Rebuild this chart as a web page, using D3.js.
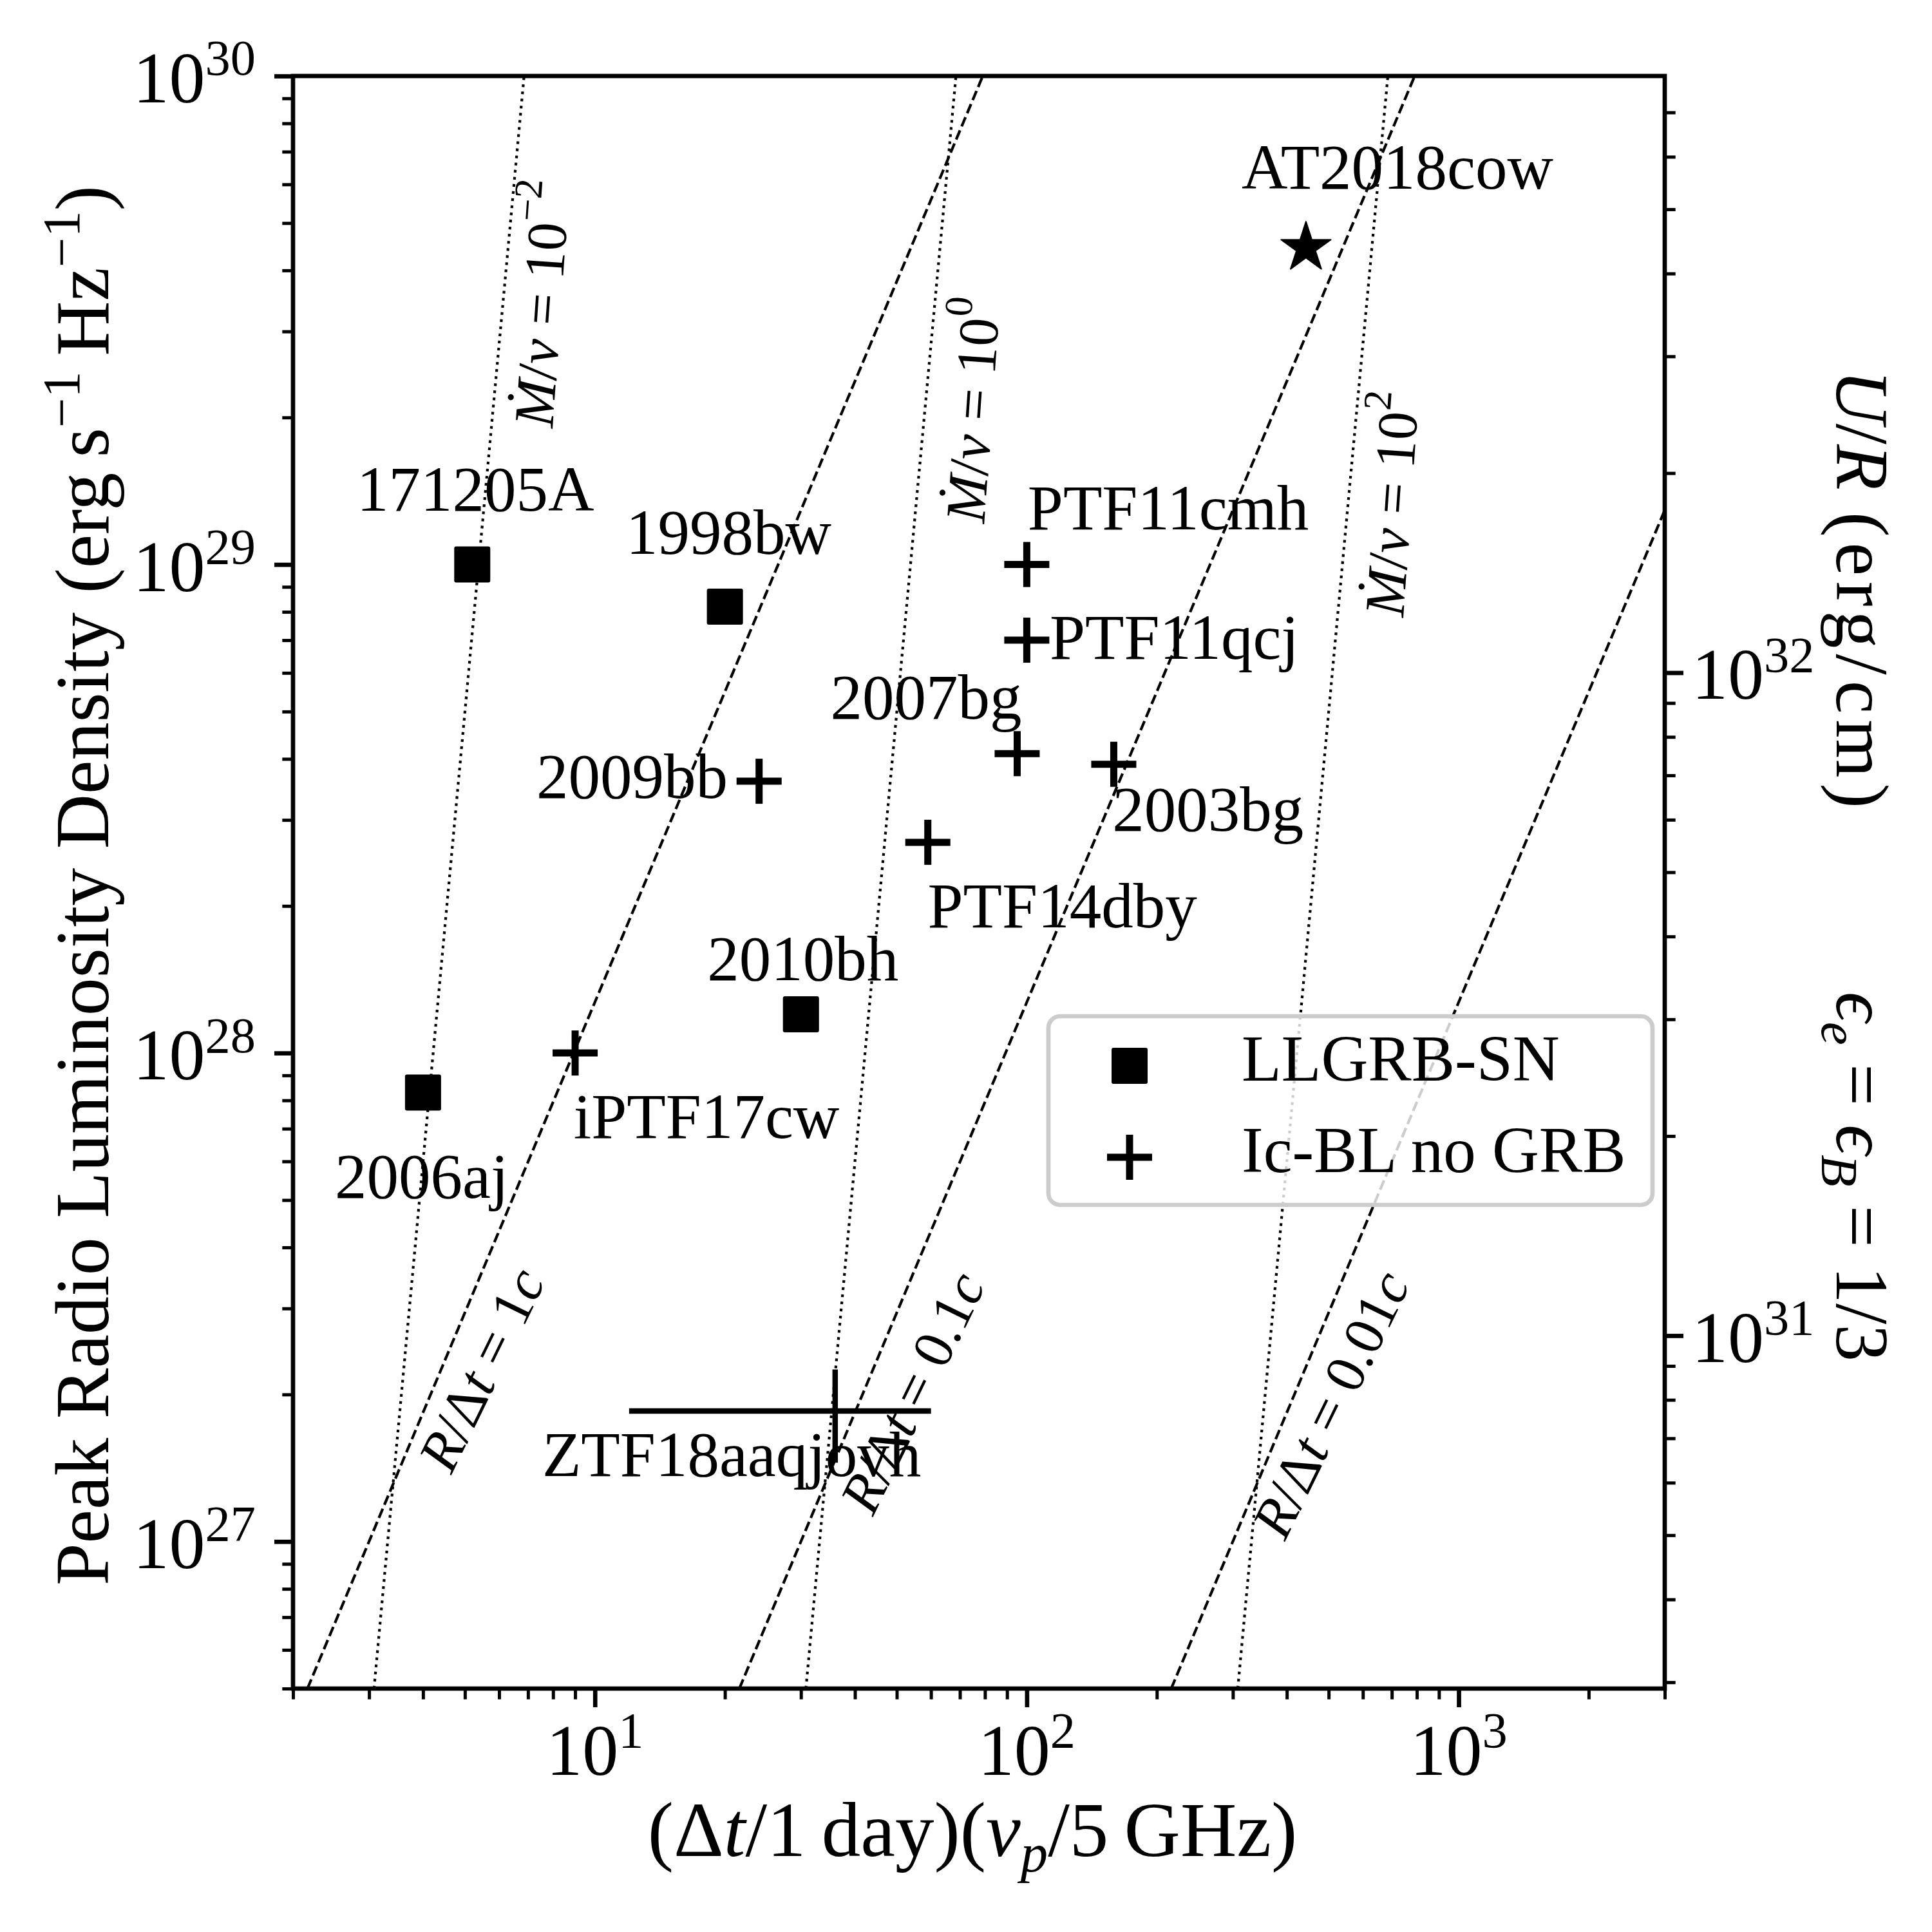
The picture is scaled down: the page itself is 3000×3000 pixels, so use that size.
<!DOCTYPE html>
<html>
<head>
<meta charset="utf-8">
<script src="https://cdn.jsdelivr.net/npm/d3@7"></script>
<style>
	body { margin: 0; background: #fff; }
	text { font-family: "Liberation Serif", "DejaVu Serif", serif; fill: #000; }
</style>
</head>
<body>
<div id="chartDiv"></div>
<script>
; (function () {

	var width = 3000;
	var height = 3000;
	var margin = { top: 118, right: 415, bottom: 378, left: 455 };

	// LLGRB-SN (squares)
	var llgrbNames = ["171205A", "1998bw", "2010bh", "2006aj"];
	var llgrbX = [5.2, 20, 30, 4.0];
	var llgrbL = [1.0e29, 8.2e28, 1.2e28, 8.3e27];
	var llgrbLabelX = [2.81, 11.8, 18.2, 2.50];
	var llgrbLabelL = [1.29e29, 1.05e29, 1.41e28, 5.06e27];

	// Ic-BL without GRB (plus)
	var icblNames = ["PTF11cmh", "PTF11qcj", "2007bg", "2003bg", "2009bb", "PTF14dby", "iPTF17cw"];
	var icblX = [100, 100, 95, 159, 24, 59, 9];
	var icblL = [1.0e29, 7.0e28, 4.1e28, 3.9e28, 3.6e28, 2.7e28, 1.0e28];
	var icblLabelX = [100.5, 113, 35.1, 157.8, 7.32, 58.97, 8.93];
	var icblLabelL = [1.18e29, 6.42e28, 4.83e28, 2.85e28, 3.33e28, 1.81e28, 6.71e27];

	// AT2018cow (star)
	var cowNames = ["AT2018cow"];
	var cowX = [443];
	var cowL = [4.45e29];
	var cowLabelX = [314.5];
	var cowLabelL = [5.87e29];

	// ZTF18aaqjovh (error bars)
	var ztfNames = ["ZTF18aaqjovh"];
	var ztfX = [36];
	var ztfXErr = [24];
	var ztfL = [1.85e27];
	var ztfLErr = [0.4e27];
	var ztfLabelX = [7.55];
	var ztfLabelL = [1.36e27];

	// constant R/dt lines (dashed): x where each meets L = 5e26
	var rdtText = ["1", "0.1", "0.01"];
	var rdtX0 = [2.16, 21.6, 216];
	var rdtSlope = 19 / 9;
	var rdtLabelX = [5.46, 54.3, 505];
	var rdtLabelL = [2.25e27, 2.02e27, 1.91e27];

	// constant Mdot/v lines (dotted)
	var mdotExp = ["\u22122", "0", "2"];
	var mdotX0 = [3.08, 30.8, 308];
	var mdotSlope = 9.5;
	var mdotLabelX = [7.54, 75, 700];
	var mdotLabelL = [3.42e29, 2.07e29, 1.33e29];

	var lineL0 = 5e26;

	var xDomain = [2, 3000];
	var yDomain = [5e26, 1e30];
	var rightDomain = [Math.pow(10, 30.4676), Math.pow(10, 32.900)];

	var xMajor = [10, 100, 1000];
	var xMajorExp = ["1", "2", "3"];
	var yMajor = [1e27, 1e28, 1e29, 1e30];
	var yMajorExp = ["27", "28", "29", "30"];
	var rMajor = [1e31, 1e32];
	var rMajorExp = ["31", "32"];

	var chartWidth = width - margin.left - margin.right;
	var chartHeight = height - margin.top - margin.bottom;

	var svg = d3.select("#chartDiv").append("svg")
		.attr("width", width)
		.attr("height", height);

	svg.append("rect").attr("width", width).attr("height", height).attr("fill", "#fff");

	var plot = svg.append("g")
		.attr("transform", "translate(" + margin.left + "," + margin.top + ")");

	var x = d3.scaleLog().domain(xDomain).range([0, chartWidth]);
	var y = d3.scaleLog().domain(yDomain).range([chartHeight, 0]);
	var yR = d3.scaleLog().domain(rightDomain).range([chartHeight, 0]);

	plot.append("clipPath").attr("id", "clip")
		.append("rect").attr("width", chartWidth).attr("height", chartHeight);

	// text with italic / super / subscript pieces
	function rich(sel, parts, fs) {
		var shift = 0;
		parts.forEach(function (p) {
			var target = p.sup ? -fs * 0.38 : (p.sub ? fs * 0.2 : 0);
			var ts = sel.append("tspan").text(p.t);
			if (p.x !== undefined) ts.attr("x", p.x);
			if (target !== shift) ts.attr("dy", target - shift);
			shift = target;
			if (p.i) ts.attr("font-style", "italic");
			if (p.sup || p.sub) ts.attr("font-size", fs * 0.7);
			if (p.dx) ts.attr("dx", p.dx);
			if (p.ls) ts.attr("letter-spacing", p.ls);
		});
		return sel;
	}

	// guide lines
	var guides = plot.append("g").attr("clip-path", "url(#clip)");
	var line = d3.line().x(function (d) { return x(d[0]); }).y(function (d) { return y(d[1]); });

	rdtX0.forEach(function (x0) {
		var x1 = x0 * Math.pow(yDomain[1] / lineL0, 1 / rdtSlope);
		guides.append("path")
			.attr("d", line([[x0, lineL0], [x1, yDomain[1]]]))
			.attr("fill", "none").attr("stroke", "#000")
			.attr("stroke-width", 4.2).attr("stroke-dasharray", "15.4,6.7");
	});
	mdotX0.forEach(function (x0) {
		var x1 = x0 * Math.pow(yDomain[1] / lineL0, 1 / mdotSlope);
		guides.append("path")
			.attr("d", line([[x0, lineL0], [x1, yDomain[1]]]))
			.attr("fill", "none").attr("stroke", "#000")
			.attr("stroke-width", 4.2).attr("stroke-dasharray", "4.2,6.9");
	});

	// guide line labels
	var lineFs = 88;
	rdtText.forEach(function (t, i) {
		var txt = plot.append("text")
			.attr("font-size", lineFs)
			.attr("text-anchor", "middle")
			.attr("dominant-baseline", "central")
			.attr("transform", "translate(" + x(rdtLabelX[i]) + "," + y(rdtLabelL[i]) + ") rotate(-64)");
		rich(txt, [{ t: "R", i: 1 }, { t: "/\u0394" }, { t: "t", i: 1 }, { t: " = " + t }, { t: "c", i: 1 }], lineFs);
	});
	mdotExp.forEach(function (t, i) {
		var txt = plot.append("text")
			.attr("font-size", lineFs)
			.attr("text-anchor", "middle")
			.attr("dominant-baseline", "central")
			.attr("transform", "translate(" + x(mdotLabelX[i]) + "," + y(mdotLabelL[i]) + ") rotate(-86)");
		rich(txt, [{ t: "\u1E40", i: 1 }, { t: "/" }, { t: "v", i: 1 }, { t: " = 10" }, { t: t, sup: 1 }], lineFs);
	});

	// markers
	var sq = 56;
	plot.selectAll(".llgrb").data(llgrbX).enter().append("rect")
		.attr("class", "llgrb")
		.attr("x", function (d) { return x(d) - sq / 2; })
		.attr("y", function (d, i) { return y(llgrbL[i]) - sq / 2; })
		.attr("width", sq).attr("height", sq).attr("rx", 3)
		.attr("fill", "#000");

	var pl = 35;
	function plus(g, cx, cy) {
		g.append("line").attr("x1", cx - pl).attr("x2", cx + pl).attr("y1", cy).attr("y2", cy);
		g.append("line").attr("x1", cx).attr("x2", cx).attr("y1", cy - pl).attr("y2", cy + pl);
	}
	var plusG = plot.append("g").attr("stroke", "#000").attr("stroke-width", 11);
	icblX.forEach(function (d, i) { plus(plusG, x(d), y(icblL[i])); });

	plot.selectAll(".cow").data(cowX).enter().append("path")
		.attr("class", "cow")
		.attr("d", d3.symbol().type(d3.symbolStar).size(1850))
		.attr("transform", function (d, i) { return "translate(" + x(d) + "," + y(cowL[i]) + ")"; })
		.attr("fill", "#000").attr("stroke", "#000").attr("stroke-width", 2).attr("stroke-linejoin", "round");

	var errG = plot.append("g").attr("stroke", "#000").attr("stroke-width", 8.5);
	ztfX.forEach(function (d, i) {
		errG.append("line")
			.attr("x1", x(d - ztfXErr[i])).attr("x2", x(d + ztfXErr[i]))
			.attr("y1", y(ztfL[i])).attr("y2", y(ztfL[i]));
		errG.append("line")
			.attr("x1", x(d)).attr("x2", x(d))
			.attr("y1", y(ztfL[i] - ztfLErr[i])).attr("y2", y(ztfL[i] + ztfLErr[i]));
	});

	// point labels
	var labFs = 99;
	function labels(names, lx, ll) {
		names.forEach(function (n, i) {
			plot.append("text")
				.attr("x", x(lx[i])).attr("y", y(ll[i]))
				.attr("font-size", labFs)
				.text(n);
		});
	}
	labels(llgrbNames, llgrbLabelX, llgrbLabelL);
	labels(icblNames, icblLabelX, icblLabelL);
	labels(cowNames, cowLabelX, cowLabelL);
	labels(ztfNames, ztfLabelX, ztfLabelL);

	// axes: tick marks
	function minorOf(scale) {
		return scale.ticks().filter(function (v) {
			var e = Math.log10(v);
			return Math.abs(e - Math.round(e)) > 1e-6;
		});
	}
	function styleTicks(g, w) {
		g.select(".domain").remove();
		g.selectAll(".tick line").attr("stroke-width", w);
	}

	plot.append("g").attr("transform", "translate(0," + chartHeight + ")")
		.call(d3.axisBottom(x).tickValues(xMajor).tickSize(29).tickFormat(""))
		.call(styleTicks, 6.7);
	plot.append("g").attr("transform", "translate(0," + chartHeight + ")")
		.call(d3.axisBottom(x).tickValues(minorOf(x)).tickSize(16.7).tickFormat(""))
		.call(styleTicks, 5);
	plot.append("g")
		.call(d3.axisLeft(y).tickValues(yMajor).tickSize(29).tickFormat(""))
		.call(styleTicks, 6.7);
	plot.append("g")
		.call(d3.axisLeft(y).tickValues(minorOf(y)).tickSize(16.7).tickFormat(""))
		.call(styleTicks, 5);
	plot.append("g").attr("transform", "translate(" + chartWidth + ",0)")
		.call(d3.axisRight(yR).tickValues(rMajor).tickSize(29).tickFormat(""))
		.call(styleTicks, 6.7);
	plot.append("g").attr("transform", "translate(" + chartWidth + ",0)")
		.call(d3.axisRight(yR).tickValues(minorOf(yR)).tickSize(16.7).tickFormat(""))
		.call(styleTicks, 5);

	// frame
	plot.append("rect")
		.attr("width", chartWidth).attr("height", chartHeight)
		.attr("fill", "none").attr("stroke", "#000").attr("stroke-width", 6.7);

	// tick labels
	var tickFs = 112;
	xMajor.forEach(function (v, i) {
		var t = plot.append("text")
			.attr("x", x(v)).attr("y", chartHeight + 134)
			.attr("font-size", tickFs).attr("text-anchor", "middle");
		rich(t, [{ t: "10" }, { t: xMajorExp[i], sup: 1 }], tickFs);
	});
	yMajor.forEach(function (v, i) {
		var t = plot.append("text")
			.attr("x", -58).attr("y", y(v) + 41)
			.attr("font-size", tickFs).attr("text-anchor", "end");
		rich(t, [{ t: "10" }, { t: yMajorExp[i], sup: 1 }], tickFs);
	});
	rMajor.forEach(function (v, i) {
		var t = plot.append("text")
			.attr("x", chartWidth + 42).attr("y", yR(v) + 41)
			.attr("font-size", tickFs).attr("text-anchor", "start");
		rich(t, [{ t: "10" }, { t: rMajorExp[i], sup: 1 }], tickFs);
	});

	// axis labels
	var xlFs = 121;
	var xl = svg.append("text")
		.attr("x", 1510).attr("y", 2882)
		.attr("font-size", xlFs).attr("text-anchor", "middle");
	rich(xl, [{ t: "(\u0394" }, { t: "t", i: 1 }, { t: "/1\u2009day)(" }, { t: "\u03BD", i: 1 }, { t: "p", i: 1, sub: 1 }, { t: "/5\u2009GHz)" }], xlFs);

	var ylFs = 118;
	var yl = svg.append("text")
		.attr("transform", "translate(168,1375) rotate(-90)")
		.attr("font-size", ylFs).attr("text-anchor", "middle");
	rich(yl, [{ t: "Peak Radio Luminosity Density (erg\u2009s" }, { t: "\u22121", sup: 1 }, { t: "\u2009Hz" }, { t: "\u22121", sup: 1 }, { t: ")" }], ylFs);

	var rlFs = 116;
	var rl = svg.append("text")
		.attr("transform", "translate(2852,574) rotate(90)")
		.attr("font-size", rlFs).attr("text-anchor", "start");
	rich(rl, [{ t: "U", i: 1 }, { t: "/" }, { t: "R", i: 1 }, { t: "(erg/cm)", dx: 34, ls: 9 },
		{ t: "\u03F5", i: 1, x: 966 }, { t: "e", i: 1, sub: 1 }, { t: " = " }, { t: "\u03F5", i: 1 }, { t: "B", i: 1, sub: 1 }, { t: " = 1/3" }], rlFs);

	// legend
	var legFs = 101;
	var leg = svg.append("g");
	leg.append("rect")
		.attr("x", 1628).attr("y", 1578).attr("width", 938).attr("height", 293)
		.attr("rx", 18)
		.attr("fill", "#fff").attr("fill-opacity", 0.8)
		.attr("stroke", "#cccccc").attr("stroke-width", 6.7);
	leg.append("rect")
		.attr("x", 1754 - sq / 2).attr("y", 1655 - sq / 2)
		.attr("width", sq).attr("height", sq).attr("rx", 3).attr("fill", "#000");
	var legPlus = leg.append("g").attr("stroke", "#000").attr("stroke-width", 11);
	plus(legPlus, 1754, 1797);
	leg.append("text").attr("x", 1928).attr("y", 1678).attr("font-size", legFs).text("LLGRB-SN");
	leg.append("text").attr("x", 1928).attr("y", 1820).attr("font-size", legFs).text("Ic-BL no GRB");

})();
</script>
</body>
</html>
